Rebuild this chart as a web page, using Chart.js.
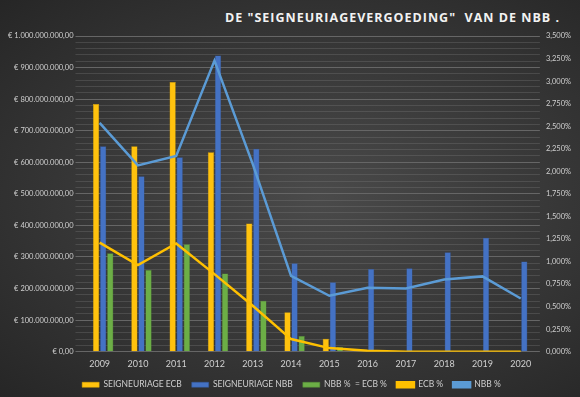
<!DOCTYPE html>
<html>
<head>
<meta charset="utf-8">
<script src="https://cdn.jsdelivr.net/npm/chart.js@4"></script>
<style>
  html, body { margin: 0; padding: 0; }
  body {
    width: 580px; height: 397px; overflow: hidden; position: relative;
    background: radial-gradient(ellipse at 55% 50%, #4a4a4a 0%, #3a3a3a 45%, #262626 100%);
  }
  #titel {
    position: absolute; right: 20px; top: 9px;
    font-family: "Open Sans", sans-serif; font-weight: bold; font-size: 12.5px;
    letter-spacing: 1px; color: #f2f2f2; white-space: pre;
  }
  #wrap { position: absolute; left: 0; top: 0; width: 580px; height: 397px; }
</style>
</head>
<body>
<div id="titel">DE "SEIGNEURIAGEVERGOEDING"  VAN DE NBB .</div>
<div id="wrap"><canvas id="grafiek"></canvas></div>
<script>
// data
const jaren = ["2009", "2010", "2011", "2012", "2013", "2014", "2015", "2016", "2017", "2018", "2019", "2020"];
const seignEcb = [785e6, 651e6, 854e6, 632e6, 406e6, 125e6, 41e6, null, null, null, null, null];
const seignNbb = [651e6, 556e6, 616e6, 938e6, 643e6, 280e6, 220e6, 262e6, 264e6, 315e6, 361e6, 286e6];
const nbbIsEcb = [312e6, 259e6, 340e6, 248e6, 161e6, 50e6, 15e6, null, null, null, null, null];
const ecbPct = [1.21, 0.96, 1.20, 0.86, 0.51, 0.14, 0.04, 0.01, 0, 0, 0, 0];
const nbbPct = [2.536, 2.065, 2.17, 3.227, 2.08, 0.84, 0.62, 0.71, 0.70, 0.80, 0.835, 0.59];

const FONT = "Lato, sans-serif";
const TXT = "#d0d0d0";
const GRID = "#666666";
const GRID_MIN = "rgba(130,130,130,0.3)";
const LEGENDA_PAD = 10;

function euro(v) {
    const [int, dec] = Math.abs(v).toFixed(2).split(".");
    return "€ " + int.replace(/\B(?=(\d{3})+(?!\d))/g, ".") + "," + dec;
}

// legenda: ruimere horizontale afstand zonder extra hoogte
const legendaPlugin = {
    id: "legendaCompact",
    beforeInit(chart) {
        const fit = chart.legend.fit;
        chart.legend.fit = function () {
            fit.bind(chart.legend)();
            this.height -= LEGENDA_PAD - 2;
        };
    },
    afterLayout(chart) {
        chart.legend.top -= LEGENDA_PAD - 4;
    },
};

const ctx = document.getElementById("grafiek").getContext("2d");
const grafiek = new Chart(ctx, {
    data: {
        labels: jaren,
        datasets: [
            // lege reeks zoals in het origineel (neemt een plaats in de groep)
            { type: "bar", label: "", data: [], order: 1 },
            {
                type: "bar", label: "SEIGNEURIAGE ECB", data: seignEcb,
                backgroundColor: "#ffc20e", borderColor: "#e0a800", borderWidth: 0.5, order: 1,
            },
            {
                type: "bar", label: "SEIGNEURIAGE NBB", data: seignNbb,
                backgroundColor: "#4472c4", borderColor: "#35589a", borderWidth: 0.5, order: 1,
            },
            {
                type: "bar", label: "NBB %  = ECB %", data: nbbIsEcb,
                backgroundColor: "#6cae46", borderColor: "#558c37", borderWidth: 0.5, order: 1,
            },
            {
                type: "line", label: "ECB %", data: ecbPct, yAxisID: "y1",
                borderColor: "#ffc000", backgroundColor: "#ffc000", borderWidth: 2.5,
                pointRadius: 0, tension: 0, order: 0,
            },
            {
                type: "line", label: "NBB %", data: nbbPct, yAxisID: "y1",
                borderColor: "#5b9bd5", backgroundColor: "#5b9bd5", borderWidth: 2.5,
                pointRadius: 0, tension: 0, order: 0,
            },
        ],
    },
    plugins: [legendaPlugin],
    options: {
        responsive: true,
        maintainAspectRatio: false,
        animation: false,
        layout: { padding: { top: 36, left: 6, right: 3, bottom: 0 } },
        datasets: { bar: { categoryPercentage: 0.74, barPercentage: 0.88, grouped: true } },
        plugins: {
            title: { display: false },
            tooltip: { enabled: false },
            legend: {
                position: "bottom",
                labels: {
                    color: TXT,
                    font: { family: FONT, size: 8.5 },
                    boxWidth: 17,
                    boxHeight: 5,
                    padding: LEGENDA_PAD,
                    filter: (item) => item.text !== "",
                    sort: (a, b) => a.datasetIndex - b.datasetIndex,
                },
            },
        },
        scales: {
            x: {
                grid: { display: false, drawTicks: false },
                border: { display: false },
                ticks: { color: TXT, font: { family: FONT, size: 9 }, padding: 7 },
            },
            y: {
                position: "left",
                min: 0,
                max: 1e9,
                border: { display: false },
                grid: {
                    color: (c) => (c.tick && c.tick.value % 1e8 === 0 ? GRID : GRID_MIN),
                    tickLength: 5,
                    tickColor: (c) => (c.tick && c.tick.value % 1e8 === 0 ? GRID : GRID_MIN),
                },
                ticks: {
                    stepSize: 2e7,
                    autoSkip: false,
                    color: TXT,
                    font: { family: FONT, size: 7.5 },
                    padding: 2,
                    callback: (v) => (v % 1e8 === 0 ? euro(v) : ""),
                },
            },
            y1: {
                position: "right",
                min: 0,
                max: 3.5,
                border: { display: false },
                grid: { drawOnChartArea: false, drawTicks: false },
                ticks: {
                    stepSize: 0.25,
                    color: TXT,
                    font: { family: FONT, size: 7.5 },
                    padding: 6,
                    callback: (v) => v.toFixed(3).replace(".", ",") + "%",
                },
            },
        },
    },
});
</script>
</body>
</html>
